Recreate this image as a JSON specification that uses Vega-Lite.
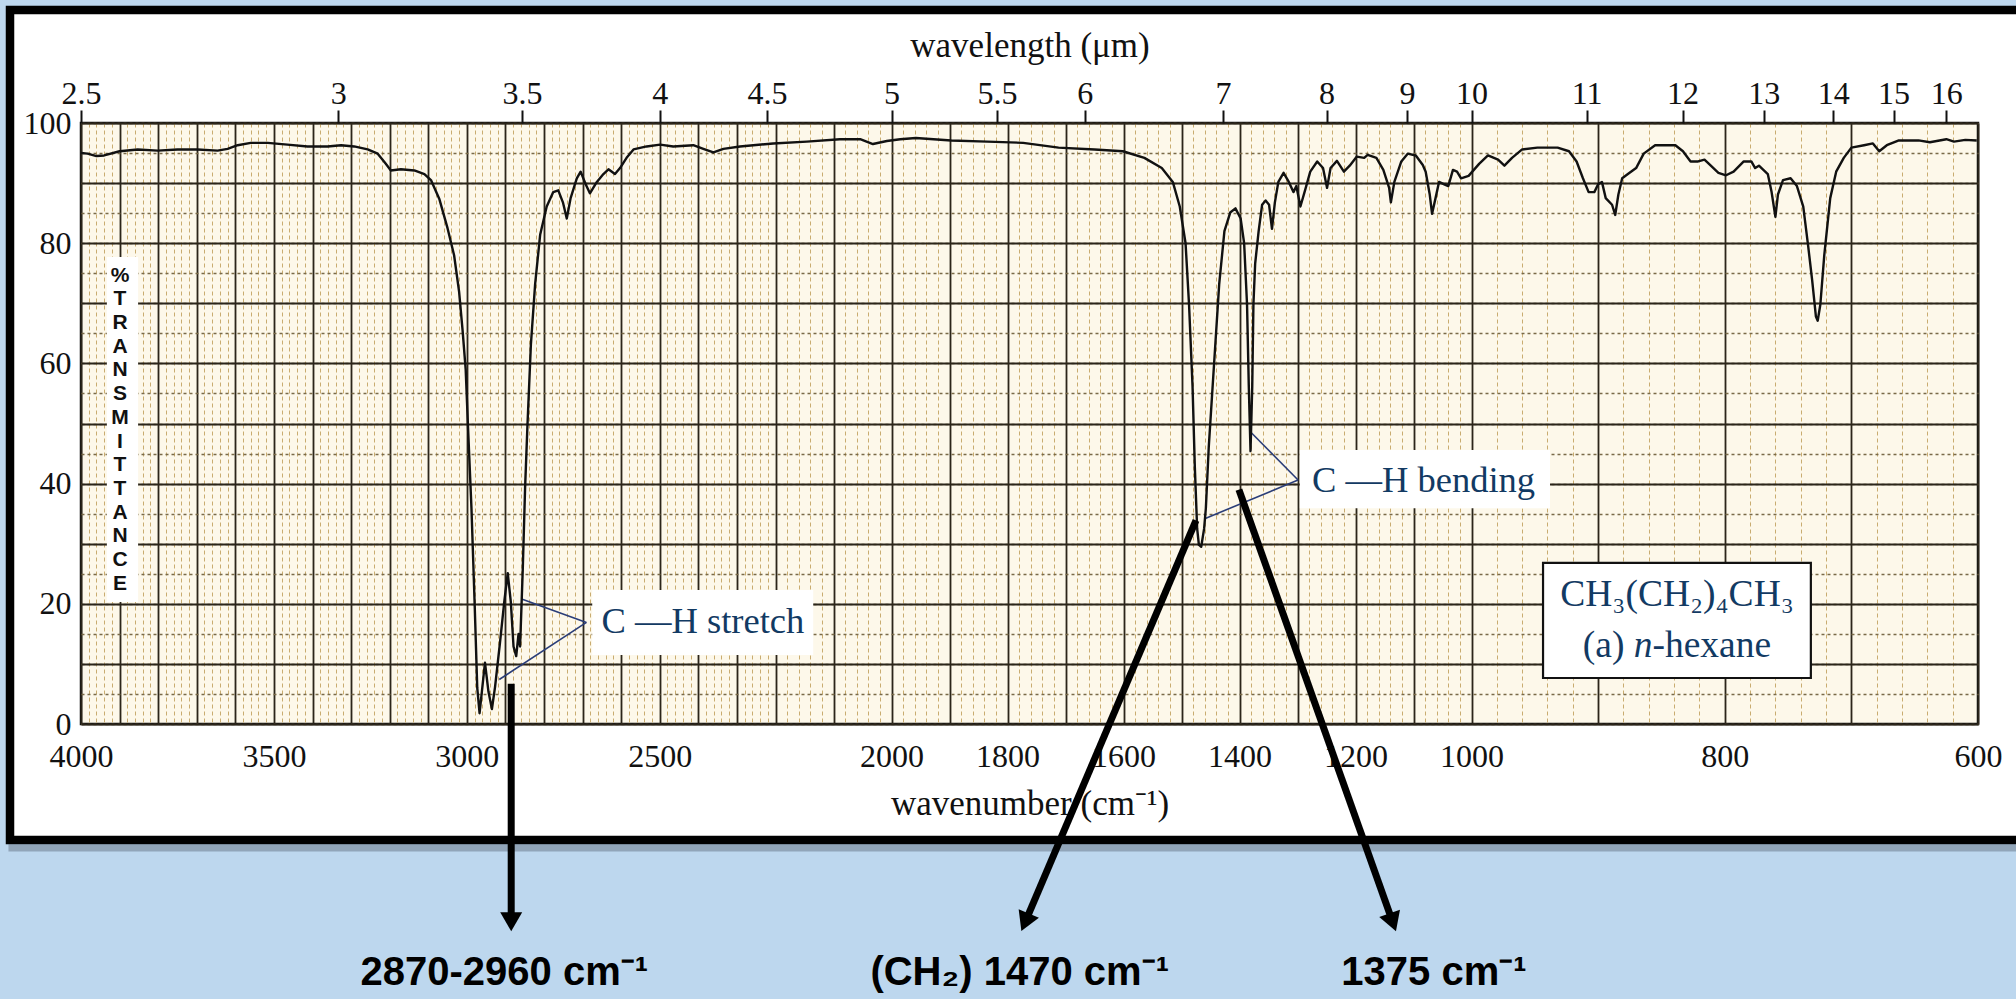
{
  "$schema": "https://vega.github.io/schema/vega-lite/v6.json",
  "width": 1897,
  "height": 601,
  "autosize": {"type": "none"},
  "padding": {"left": 81, "top": 123, "right": 38, "bottom": 275},
  "background": "white",
  "config": {
    "view": {"fill": "#fdf8ea", "stroke": "#111111", "strokeWidth": 2.5}
  },
  "datasets": {
    "spectrum": [
      {"wn": 4000, "T": 95.0}, {"wn": 3983, "T": 94.9}, {"wn": 3960, "T": 94.5}, {"wn": 3940, "T": 94.6},
      {"wn": 3900, "T": 95.3}, {"wn": 3853, "T": 95.6}, {"wn": 3801, "T": 95.4}, {"wn": 3750, "T": 95.6},
      {"wn": 3698, "T": 95.6}, {"wn": 3646, "T": 95.4}, {"wn": 3620, "T": 95.7}, {"wn": 3594, "T": 96.3},
      {"wn": 3560, "T": 96.7}, {"wn": 3516, "T": 96.7}, {"wn": 3465, "T": 96.4}, {"wn": 3413, "T": 96.1},
      {"wn": 3361, "T": 96.1}, {"wn": 3326, "T": 96.3}, {"wn": 3292, "T": 96.1}, {"wn": 3257, "T": 95.6},
      {"wn": 3231, "T": 94.9}, {"wn": 3210, "T": 93.2}, {"wn": 3197, "T": 92.1}, {"wn": 3171, "T": 92.3},
      {"wn": 3136, "T": 92.1}, {"wn": 3110, "T": 91.5}, {"wn": 3093, "T": 90.5}, {"wn": 3071, "T": 87.3},
      {"wn": 3050, "T": 82.5}, {"wn": 3033, "T": 78.0}, {"wn": 3020, "T": 71.9}, {"wn": 3011, "T": 65.5},
      {"wn": 3003, "T": 59.0}, {"wn": 2997, "T": 49.5}, {"wn": 2988, "T": 35.9}, {"wn": 2980, "T": 20.5},
      {"wn": 2973, "T": 6.0}, {"wn": 2967, "T": 1.8}, {"wn": 2961, "T": 5.4}, {"wn": 2953, "T": 10.2},
      {"wn": 2944, "T": 5.4}, {"wn": 2935, "T": 2.5}, {"wn": 2927, "T": 6.1}, {"wn": 2914, "T": 13.6},
      {"wn": 2903, "T": 20.3}, {"wn": 2894, "T": 25.1}, {"wn": 2886, "T": 20.3}, {"wn": 2879, "T": 12.9},
      {"wn": 2872, "T": 11.3}, {"wn": 2866, "T": 15.0}, {"wn": 2862, "T": 12.9}, {"wn": 2855, "T": 25.8},
      {"wn": 2849, "T": 39.3}, {"wn": 2843, "T": 49.5}, {"wn": 2834, "T": 63.1}, {"wn": 2823, "T": 73.2},
      {"wn": 2810, "T": 81.4}, {"wn": 2793, "T": 86.1}, {"wn": 2776, "T": 88.5}, {"wn": 2763, "T": 88.8},
      {"wn": 2751, "T": 86.8}, {"wn": 2741, "T": 84.1}, {"wn": 2731, "T": 87.5}, {"wn": 2715, "T": 90.8},
      {"wn": 2705, "T": 91.9}, {"wn": 2692, "T": 89.8}, {"wn": 2681, "T": 88.3}, {"wn": 2663, "T": 90.2},
      {"wn": 2646, "T": 91.5}, {"wn": 2633, "T": 92.3}, {"wn": 2616, "T": 91.5}, {"wn": 2603, "T": 92.5},
      {"wn": 2586, "T": 94.2}, {"wn": 2568, "T": 95.6}, {"wn": 2534, "T": 96.1}, {"wn": 2499, "T": 96.4},
      {"wn": 2465, "T": 96.1}, {"wn": 2413, "T": 96.3}, {"wn": 2387, "T": 95.7}, {"wn": 2361, "T": 95.1},
      {"wn": 2335, "T": 95.7}, {"wn": 2292, "T": 96.1}, {"wn": 2206, "T": 96.6}, {"wn": 2146, "T": 96.9},
      {"wn": 2089, "T": 97.3}, {"wn": 2054, "T": 97.3}, {"wn": 2032, "T": 96.5}, {"wn": 2008, "T": 97.0},
      {"wn": 1985, "T": 97.3}, {"wn": 1958, "T": 97.5}, {"wn": 1897, "T": 97.1}, {"wn": 1835, "T": 96.9},
      {"wn": 1773, "T": 96.7}, {"wn": 1712, "T": 95.9}, {"wn": 1650, "T": 95.6}, {"wn": 1601, "T": 95.3},
      {"wn": 1564, "T": 94.2}, {"wn": 1534, "T": 92.5}, {"wn": 1515, "T": 90.2}, {"wn": 1503, "T": 86.1},
      {"wn": 1493, "T": 80.0}, {"wn": 1487, "T": 69.8}, {"wn": 1481, "T": 56.3}, {"wn": 1477, "T": 42.7},
      {"wn": 1473, "T": 32.5}, {"wn": 1470, "T": 29.8}, {"wn": 1466, "T": 29.5}, {"wn": 1461, "T": 32.5},
      {"wn": 1458, "T": 35.9}, {"wn": 1453, "T": 46.1}, {"wn": 1444, "T": 59.7}, {"wn": 1435, "T": 73.2},
      {"wn": 1426, "T": 82.0}, {"wn": 1416, "T": 85.1}, {"wn": 1407, "T": 85.8}, {"wn": 1398, "T": 84.1},
      {"wn": 1392, "T": 80.0}, {"wn": 1387, "T": 69.8}, {"wn": 1384, "T": 56.3}, {"wn": 1381, "T": 45.4},
      {"wn": 1378, "T": 56.3}, {"wn": 1376, "T": 69.8}, {"wn": 1373, "T": 76.6}, {"wn": 1367, "T": 82.0},
      {"wn": 1361, "T": 86.4}, {"wn": 1355, "T": 87.1}, {"wn": 1349, "T": 86.4}, {"wn": 1344, "T": 82.4},
      {"wn": 1339, "T": 86.8}, {"wn": 1333, "T": 90.2}, {"wn": 1324, "T": 91.7}, {"wn": 1315, "T": 90.2},
      {"wn": 1307, "T": 88.5}, {"wn": 1302, "T": 89.5}, {"wn": 1295, "T": 86.1}, {"wn": 1287, "T": 88.8},
      {"wn": 1278, "T": 91.9}, {"wn": 1266, "T": 93.6}, {"wn": 1256, "T": 92.5}, {"wn": 1249, "T": 89.2},
      {"wn": 1243, "T": 92.5}, {"wn": 1232, "T": 93.7}, {"wn": 1220, "T": 91.9}, {"wn": 1210, "T": 92.9},
      {"wn": 1198, "T": 94.4}, {"wn": 1185, "T": 94.2}, {"wn": 1179, "T": 94.7}, {"wn": 1164, "T": 94.2},
      {"wn": 1152, "T": 92.2}, {"wn": 1142, "T": 89.2}, {"wn": 1139, "T": 86.8}, {"wn": 1133, "T": 90.2},
      {"wn": 1121, "T": 93.6}, {"wn": 1110, "T": 94.9}, {"wn": 1096, "T": 94.6}, {"wn": 1084, "T": 93.0},
      {"wn": 1079, "T": 91.9}, {"wn": 1072, "T": 88.1}, {"wn": 1068, "T": 84.9}, {"wn": 1062, "T": 87.5},
      {"wn": 1056, "T": 90.2}, {"wn": 1047, "T": 89.8}, {"wn": 1040, "T": 89.5}, {"wn": 1032, "T": 92.2},
      {"wn": 1025, "T": 91.9}, {"wn": 1018, "T": 90.8}, {"wn": 1005, "T": 91.2}, {"wn": 994, "T": 93.2},
      {"wn": 987, "T": 94.6}, {"wn": 979, "T": 93.9}, {"wn": 974, "T": 92.9}, {"wn": 968, "T": 94.2},
      {"wn": 960, "T": 95.6}, {"wn": 948, "T": 95.9}, {"wn": 932, "T": 95.9}, {"wn": 923, "T": 95.3},
      {"wn": 917, "T": 93.6}, {"wn": 912, "T": 90.8}, {"wn": 907.5, "T": 88.5}, {"wn": 903, "T": 88.5},
      {"wn": 900, "T": 89.8}, {"wn": 897, "T": 90.2}, {"wn": 894, "T": 87.5}, {"wn": 889, "T": 86.4},
      {"wn": 886.5, "T": 84.7}, {"wn": 884, "T": 88.1}, {"wn": 881, "T": 90.8}, {"wn": 876.5, "T": 91.5},
      {"wn": 870, "T": 92.5}, {"wn": 864, "T": 94.9}, {"wn": 855, "T": 96.3}, {"wn": 839, "T": 96.3},
      {"wn": 833, "T": 95.3}, {"wn": 827, "T": 93.6}, {"wn": 821, "T": 93.6}, {"wn": 816, "T": 93.9},
      {"wn": 811, "T": 92.9}, {"wn": 805, "T": 91.7}, {"wn": 799, "T": 91.3}, {"wn": 793, "T": 91.9},
      {"wn": 785, "T": 93.6}, {"wn": 779, "T": 93.6}, {"wn": 776, "T": 92.5}, {"wn": 773, "T": 92.9},
      {"wn": 766, "T": 91.5}, {"wn": 763, "T": 88.5}, {"wn": 760, "T": 84.4}, {"wn": 758, "T": 88.1},
      {"wn": 754, "T": 90.5}, {"wn": 748, "T": 90.8}, {"wn": 743, "T": 89.5}, {"wn": 738, "T": 86.1},
      {"wn": 734, "T": 79.3}, {"wn": 731, "T": 73.9}, {"wn": 728, "T": 67.8}, {"wn": 726.6, "T": 67.1},
      {"wn": 724.5, "T": 69.8}, {"wn": 721.4, "T": 78.0}, {"wn": 716.7, "T": 87.5}, {"wn": 712, "T": 91.9},
      {"wn": 706, "T": 94.2}, {"wn": 700, "T": 95.9}, {"wn": 690, "T": 96.3}, {"wn": 683, "T": 96.6},
      {"wn": 678, "T": 95.3}, {"wn": 672, "T": 96.3}, {"wn": 662.5, "T": 97.1}, {"wn": 647, "T": 97.1},
      {"wn": 638, "T": 96.8}, {"wn": 625, "T": 97.3}, {"wn": 619, "T": 96.9}, {"wn": 610, "T": 97.2},
      {"wn": 601, "T": 97.1}
    ],
    "strips": [
      {"x": 4400, "x2": 450, "y": 119.47, "y2": 130},
      {"x": 4400, "x2": 4194, "y": 130, "y2": -60},
      {"x": 4400, "x2": 450, "y": -19.97, "y2": -60}
    ],
    "panel": [{"x": 4184, "x2": 450, "y": 118.8, "y2": -19.3}],
    "shadow": [{"x": 4188, "x2": 450, "y": -19.97, "y2": -21.2}],
    "boxes": [
      {"x": 3933, "x2": 3852, "y": 77.7, "y2": 20.3},
      {"x": 2675, "x2": 2135, "y": 22.3, "y2": 11.5},
      {"x": 1296, "x2": 938, "y": 45.6, "y2": 35.9}
    ],
    "legendbox": [{"x": 943.5, "x2": 732, "y": 26.8, "y2": 7.65}],
    "leaders": [
      {"x": 2690, "y": 16.9, "x2": 2858, "y2": 20.8},
      {"x": 2690, "y": 16.9, "x2": 2916, "y2": 7.4},
      {"x": 1299, "y": 40.6, "x2": 1383, "y2": 48.8},
      {"x": 1299, "y": 40.6, "x2": 1459, "y2": 34.2}
    ],
    "ylabel": [{"x": 3899, "y": 74.6, "label": "%\nT\nR\nA\nN\nS\nM\nI\nT\nT\nA\nN\nC\nE"}],
    "chlabels": [
      {"x": 2651, "y": 15.1, "label": "C —H stretch"},
      {"x": 1275, "y": 38.6, "label": "C —H bending"}
    ],
    "legendtext": [
      {"x": 837.7, "y": 19.6, "label": "CH₃(CH₂)₄CH₃"}
    ],
    "legendplain": [
      {"x": 912.1, "y": 11.1, "label": "(a)"},
      {"x": 857.1, "y": 11.1, "label": "-hexane"}
    ],
    "legenditalic": [
      {"x": 871.9, "y": 11.1, "label": "n"}
    ],
    "arrows": [
      {"x": 2885, "y": 6.7, "x2": 2885, "y2": -32.9},
      {"x": 1475, "y": 33.9, "x2": 1769.7, "y2": -33.0},
      {"x": 1401, "y": 39.0, "x2": 1135.7, "y2": -33.0}
    ],
    "heads": [
      {"id": 1, "x": 2885, "y": -32.9},
      {"id": 2, "x": 1769.7, "y": -33.0},
      {"id": 3, "x": 1135.7, "y": -33.0}
    ],
    "notes": [
      {"x": 2903, "y": -43.4, "label": "2870-2960 cm⁻¹"},
      {"x": 1779, "y": -43.4, "label": "(CH₂) 1470 cm⁻¹"},
      {"x": 1064.7, "y": -43.4, "label": "1375 cm⁻¹"}
    ]
  },
  "layer": [
    {
      "data": {"name": "strips"},
      "mark": {"type": "rect", "fill": "#bdd7ee"},
      "encoding": {
        "x": {"field": "x", "type": "quantitative",
          "scale": {"domain": [4000, 2200, 1000, 600], "range": [0, 694.5, 1390.5, 1897], "nice": false, "zero": false},
          "axis": {"orient": "bottom", "grid": true, "tickCount": 170, "gridColor": "#c9ac70", "gridDash": [4, 3], "gridWidth": 1, "labels": false, "ticks": false, "domain": false, "title": null}},
        "x2": {"field": "x2"},
        "y": {"field": "y", "type": "quantitative",
          "scale": {"domain": [0, 100], "nice": false, "zero": false},
          "axis": {"orient": "left", "grid": true, "tickCount": 20, "gridColor": "#7a6a48", "gridDash": [3, 3], "gridWidth": 1.3, "labels": false, "ticks": false, "domain": false, "title": null}},
        "y2": {"field": "y2"}
      }
    },
    {
      "data": {"name": "panel"},
      "mark": {"type": "rect", "fillOpacity": 0, "stroke": "#000000", "strokeWidth": 8.5},
      "encoding": {
        "x": {"field": "x", "type": "quantitative",
          "scale": {"domain": [4000, 2200, 1000, 600], "range": [0, 694.5, 1390.5, 1897], "nice": false, "zero": false},
          "axis": {"orient": "bottom", "grid": true, "tickCount": 34, "gridColor": "#2b251a", "gridWidth": 1.8, "labels": false, "ticks": false, "domain": false, "title": null}},
        "x2": {"field": "x2"},
        "y": {"field": "y", "type": "quantitative",
          "scale": {"domain": [0, 100], "nice": false, "zero": false},
          "axis": {"orient": "left", "grid": true, "tickCount": 10, "gridColor": "#2b251a", "gridWidth": 2, "labels": false, "ticks": false, "domain": false, "title": null}},
        "y2": {"field": "y2"}
      }
    },
    {
      "data": {"name": "shadow"},
      "mark": {"type": "rect", "fill": "#5b6878", "opacity": 0.45},
      "encoding": {
        "x": {"field": "x", "type": "quantitative", "axis": null},
        "x2": {"field": "x2"},
        "y": {"field": "y", "type": "quantitative", "axis": null},
        "y2": {"field": "y2"}
      }
    },
    {
      "data": {"name": "boxes"},
      "mark": {"type": "rect", "fill": "#ffffff"},
      "encoding": {
        "x": {"field": "x", "type": "quantitative", "axis": null},
        "x2": {"field": "x2"},
        "y": {"field": "y", "type": "quantitative", "axis": null},
        "y2": {"field": "y2"}
      }
    },
    {
      "data": {"name": "legendbox"},
      "mark": {"type": "rect", "fill": "#ffffff", "stroke": "#111111", "strokeWidth": 2.2},
      "encoding": {
        "x": {"field": "x", "type": "quantitative", "axis": null},
        "x2": {"field": "x2"},
        "y": {"field": "y", "type": "quantitative", "axis": null},
        "y2": {"field": "y2"}
      }
    },
    {
      "data": {"name": "leaders"},
      "mark": {"type": "rule", "color": "#2a3d78", "strokeWidth": 1.6},
      "encoding": {
        "x": {"field": "x", "type": "quantitative",
          "axis": {"orient": "top", "values": [4000, 3333.333, 2857.143, 2500, 2222.222, 2000, 1818.182, 1666.667, 1428.571, 1250, 1111.111, 1000, 909.091, 833.333, 769.231, 714.286, 666.667, 625],
            "labelExpr": "format(10000 / datum.value, '.2~r')",
            "labelFont": "Liberation Serif", "labelFontSize": 32, "labelColor": "#111111", "labelPadding": 0, "labelFlush": false, "labelOverlap": false,
            "ticks": true, "tickSize": 13, "tickWidth": 2, "tickColor": "#111111", "domain": false, "grid": false,
            "title": "wavelength (μm)", "titleFont": "Liberation Serif", "titleFontSize": 35, "titleFontWeight": "normal", "titleColor": "#111111", "titlePadding": 14}},
        "x2": {"field": "x2"},
        "y": {"field": "y", "type": "quantitative", "axis": null},
        "y2": {"field": "y2"}
      }
    },
    {
      "data": {"name": "spectrum"},
      "mark": {"type": "line", "color": "#111111", "strokeWidth": 2.4, "strokeJoin": "round"},
      "encoding": {
        "x": {"field": "wn", "type": "quantitative",
          "axis": {"orient": "bottom", "values": [4000, 3500, 3000, 2500, 2000, 1800, 1600, 1400, 1200, 1000, 800, 600],
            "labelFont": "Liberation Serif", "labelFontSize": 32, "labelColor": "#111111", "labelPadding": 17, "labelFlush": false, "labelOverlap": false,
            "ticks": false, "tickSize": 0, "domain": false, "grid": false, "format": "d",
            "title": "wavenumber (cm⁻¹)", "titleFont": "Liberation Serif", "titleFontSize": 35, "titleFontWeight": "normal", "titleColor": "#111111", "titlePadding": 14}},
        "y": {"field": "T", "type": "quantitative",
          "axis": {"orient": "left", "values": [0, 20, 40, 60, 80, 100],
            "labelFont": "Liberation Serif", "labelFontSize": 32, "labelColor": "#111111", "labelPadding": 10, "labelFlush": false,
            "ticks": false, "tickSize": 0, "domain": false, "grid": false, "title": null}}
      }
    },
    {
      "data": {"name": "ylabel"},
      "mark": {"type": "text", "font": "Liberation Sans", "fontWeight": "bold", "fontSize": 21, "lineHeight": 23.7, "lineBreak": "\n", "align": "center", "baseline": "middle", "color": "#111111"},
      "encoding": {
        "x": {"field": "x", "type": "quantitative", "axis": null},
        "y": {"field": "y", "type": "quantitative", "axis": null},
        "text": {"field": "label"}
      }
    },
    {
      "data": {"name": "chlabels"},
      "mark": {"type": "text", "font": "Liberation Serif", "fontSize": 36.5, "align": "left", "baseline": "alphabetic", "color": "#123a63"},
      "encoding": {
        "x": {"field": "x", "type": "quantitative", "axis": null},
        "y": {"field": "y", "type": "quantitative", "axis": null},
        "text": {"field": "label"}
      }
    },
    {
      "data": {"name": "legendtext"},
      "mark": {"type": "text", "font": "Liberation Serif", "fontSize": 37.5, "align": "center", "baseline": "alphabetic", "color": "#123a63"},
      "encoding": {
        "x": {"field": "x", "type": "quantitative", "axis": null},
        "y": {"field": "y", "type": "quantitative", "axis": null},
        "text": {"field": "label"}
      }
    },
    {
      "data": {"name": "legendplain"},
      "mark": {"type": "text", "font": "Liberation Serif", "fontSize": 37.5, "align": "left", "baseline": "alphabetic", "color": "#123a63"},
      "encoding": {
        "x": {"field": "x", "type": "quantitative", "axis": null},
        "y": {"field": "y", "type": "quantitative", "axis": null},
        "text": {"field": "label"}
      }
    },
    {
      "data": {"name": "legenditalic"},
      "mark": {"type": "text", "font": "Liberation Serif", "fontStyle": "italic", "fontSize": 37.5, "align": "left", "baseline": "alphabetic", "color": "#123a63"},
      "encoding": {
        "x": {"field": "x", "type": "quantitative", "axis": null},
        "y": {"field": "y", "type": "quantitative", "axis": null},
        "text": {"field": "label"}
      }
    },
    {
      "data": {"name": "arrows"},
      "mark": {"type": "rule", "color": "#000000", "strokeWidth": 7},
      "encoding": {
        "x": {"field": "x", "type": "quantitative", "axis": null},
        "x2": {"field": "x2"},
        "y": {"field": "y", "type": "quantitative", "axis": null},
        "y2": {"field": "y2"}
      }
    },
    {
      "data": {"name": "heads"},
      "transform": [{"filter": "datum.id == 1"}],
      "mark": {"type": "point", "shape": "triangle-down", "size": 484, "filled": true, "color": "#000000", "opacity": 1, "angle": 0},
      "encoding": {
        "x": {"field": "x", "type": "quantitative", "axis": null},
        "y": {"field": "y", "type": "quantitative", "axis": null}
      }
    },
    {
      "data": {"name": "heads"},
      "transform": [{"filter": "datum.id == 2"}],
      "mark": {"type": "point", "shape": "triangle-down", "size": 484, "filled": true, "color": "#000000", "opacity": 1, "angle": 23},
      "encoding": {
        "x": {"field": "x", "type": "quantitative", "axis": null},
        "y": {"field": "y", "type": "quantitative", "axis": null}
      }
    },
    {
      "data": {"name": "heads"},
      "transform": [{"filter": "datum.id == 3"}],
      "mark": {"type": "point", "shape": "triangle-down", "size": 484, "filled": true, "color": "#000000", "opacity": 1, "angle": 340.4},
      "encoding": {
        "x": {"field": "x", "type": "quantitative", "axis": null},
        "y": {"field": "y", "type": "quantitative", "axis": null}
      }
    },
    {
      "data": {"name": "notes"},
      "mark": {"type": "text", "font": "Liberation Sans", "fontWeight": "bold", "fontSize": 40, "align": "center", "baseline": "alphabetic", "color": "#000000"},
      "encoding": {
        "x": {"field": "x", "type": "quantitative", "axis": null},
        "y": {"field": "y", "type": "quantitative", "axis": null},
        "text": {"field": "label"}
      }
    }
  ],
  "resolve": {"axis": {"x": "independent", "y": "independent"}}
}
